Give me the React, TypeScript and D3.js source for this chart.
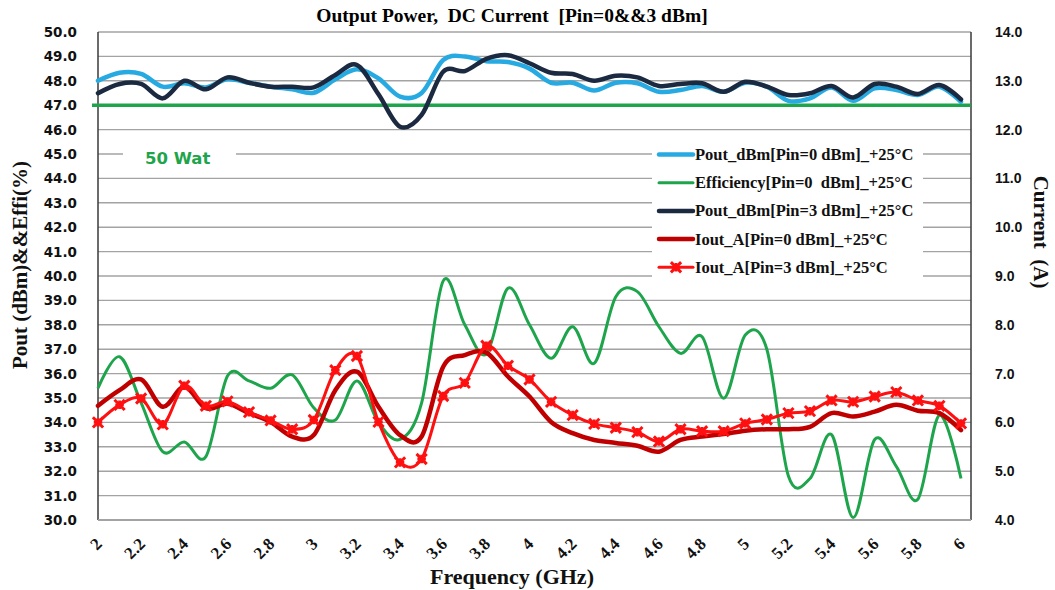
import React from "react";
import * as d3 from "d3";

// frequency points (GHz)
const freqs = [
  2.0, 2.1, 2.2, 2.3, 2.4, 2.5, 2.6, 2.7, 2.8, 2.9, 3.0,
  3.1, 3.2, 3.3, 3.4, 3.5, 3.6, 3.7, 3.8, 3.9, 4.0,
  4.1, 4.2, 4.3, 4.4, 4.5, 4.6, 4.7, 4.8, 4.9, 5.0,
  5.1, 5.2, 5.3, 5.4, 5.5, 5.6, 5.7, 5.8, 5.9, 6.0,
];
const xTicks = [2, 2.2, 2.4, 2.6, 2.8, 3, 3.2, 3.4, 3.6, 3.8, 4, 4.2, 4.4, 4.6, 4.8, 5, 5.2, 5.4, 5.6, 5.8, 6];

// left axis (dBm / %)
const poutPin0 = [
  48.0, 48.33, 48.28, 47.76, 47.9, 47.73, 48.06, 47.92, 47.76, 47.65, 47.51,
  48.06, 48.47, 48.1, 47.35, 47.5, 48.85, 49.0, 48.8, 48.77, 48.5,
  47.92, 47.92, 47.6, 47.92, 47.9, 47.55, 47.62, 47.79, 47.55, 47.92,
  47.76, 47.18, 47.28, 47.73, 47.18, 47.69, 47.62, 47.42, 47.76, 47.14,
];
const poutPin3 = [
  47.49, 47.87, 47.87, 47.28, 48.0, 47.65, 48.14, 47.92, 47.76, 47.76, 47.73,
  48.24, 48.65, 47.45, 46.12, 46.6, 48.37, 48.4, 48.9, 49.05, 48.72,
  48.33, 48.28, 48.0, 48.21, 48.14, 47.79, 47.87, 47.9, 47.55, 47.96,
  47.76, 47.42, 47.49, 47.79, 47.32, 47.87, 47.76, 47.46, 47.83, 47.24,
];
const efficiency = [
  35.4, 36.69, 34.8, 32.8, 33.2, 32.6, 35.9, 35.7, 35.4, 35.95, 34.6,
  34.1, 35.7, 34.0, 33.3, 34.8, 39.8, 38.0, 36.8, 39.5, 38.0,
  36.63, 37.92, 36.42, 39.15, 39.36, 37.92, 36.83, 37.51, 34.99, 37.58,
  37.0, 31.8, 31.7, 33.5, 30.1, 33.3, 32.2, 30.85, 34.3, 31.7,
];
const line50W = 47.0;

// right axis (A)
const ioutPin0 = [
  6.34, 6.66, 6.88, 6.32, 6.73, 6.29, 6.38, 6.19, 6.01, 5.71, 5.74,
  6.66, 7.04, 6.32, 5.74, 5.71, 7.14, 7.38, 7.43, 6.94, 6.53,
  6.01, 5.78, 5.64, 5.58, 5.52, 5.4, 5.64, 5.71, 5.76, 5.83,
  5.86, 5.86, 5.91, 6.19, 6.12, 6.22, 6.36, 6.24, 6.19, 5.84,
];
const ioutPin3 = [
  6.0, 6.36, 6.49, 5.96, 6.75, 6.34, 6.43, 6.21, 6.04, 5.86, 6.05,
  7.07, 7.36, 6.01, 5.18, 5.25, 6.54, 6.81, 7.57, 7.16, 6.88,
  6.42, 6.15, 5.97, 5.89, 5.8, 5.61, 5.86, 5.82, 5.82, 5.98,
  6.06, 6.19, 6.23, 6.45, 6.42, 6.53, 6.62, 6.45, 6.34, 5.98,
];

const leftTicks = d3.range(30, 50.5, 1);
const rightTicks = d3.range(4, 14.5, 1);

const C_BLUE = "#27AAE1";
const C_NAVY = "#1B2A40";
const C_GREEN = "#1EA54C";
const C_DRED = "#C00000";
const C_RED = "#FF1010";

const legendItems = [
  { label: "Pout_dBm[Pin=0 dBm]_+25°C", color: C_BLUE, width: 4.5, marker: false },
  { label: "Efficiency[Pin=0  dBm]_+25°C", color: C_GREEN, width: 3, marker: false },
  { label: "Pout_dBm[Pin=3 dBm]_+25°C", color: C_NAVY, width: 4.5, marker: false },
  { label: "Iout_A[Pin=0 dBm]_+25°C", color: C_DRED, width: 4.5, marker: false },
  { label: "Iout_A[Pin=3 dBm]_+25°C", color: C_RED, width: 3, marker: true },
];

export default function App() {
  const left = 98, right = 971, top = 32, bottom = 520;
  const x = d3.scaleLinear().domain([2, 6]).range([98, 961]);
  const yL = d3.scaleLinear().domain([30, 50]).range([bottom, top]);
  const yR = d3.scaleLinear().domain([4, 14]).range([bottom, top]);

  const curve = d3.curveCardinal.tension(0);
  const lineL = d3.line<number>().x((_, i) => x(freqs[i])).y((d) => yL(d)).curve(curve);
  const lineR = d3.line<number>().x((_, i) => x(freqs[i])).y((d) => yR(d)).curve(curve);
  const star = d3.symbol().type(d3.symbolTimes).size(70)();
  const plus = d3.symbol().type(d3.symbolCross).size(40)();

  const serif = "'Liberation Serif', 'Times New Roman', serif";

  const marker = (cx: number, cy: number, k: number) => (
    <g key={k} transform={`translate(${cx},${cy})`}>
      <path d={star} fill="none" stroke={C_RED} strokeWidth={3} />
      <path d={plus} fill={C_RED} />
    </g>
  );

  return (
    <svg width={1055} height={590} style={{ position: "absolute", left: 0, top: 0, background: "#fff" }}>
      {/* grid */}
      {leftTicks.map((t) => (
        <line key={t} x1={left} x2={right} y1={yL(t)} y2={yL(t)} stroke="#A3A3A3" strokeWidth={1.4} />
      ))}
      <line x1={left} x2={left} y1={top} y2={bottom} stroke="#3A3A3A" strokeWidth={1.5} />
      <line x1={right} x2={right} y1={top} y2={bottom} stroke="#3A3A3A" strokeWidth={1.5} />
      <line x1={left} x2={right} y1={bottom} y2={bottom} stroke="#A3A3A3" strokeWidth={2} />

      {/* title */}
      <text x={512} y={22} textAnchor="middle" fontFamily={serif} fontWeight="bold" fontSize={19.5} style={{ whiteSpace: "pre" }}>
        {"Output Power,  DC Current  [Pin=0&&3 dBm]"}
      </text>

      {/* left ticks */}
      {leftTicks.map((t) => (
        <text key={t} x={77} y={yL(t) + 5} textAnchor="end" fontFamily="'DejaVu Sans', sans-serif" fontWeight="bold" fontSize={13.5} fill="#111">
          {t.toFixed(1)}
        </text>
      ))}
      {/* right ticks */}
      {rightTicks.map((t) => (
        <text key={t} x={995} y={yR(t) + 5} fontFamily="'Liberation Sans', Arial, sans-serif" fontWeight="bold" fontSize={14} fill="#111">
          {t.toFixed(1)}
        </text>
      ))}
      {/* x ticks */}
      {xTicks.map((t) => (
        <text key={t} transform={`translate(${x(t) + 5},${545}) rotate(-45)`} textAnchor="end" fontFamily={serif} fontWeight="bold" fontSize={17} fill="#111">
          {String(t)}
        </text>
      ))}

      {/* axis titles */}
      <text transform={`translate(27,${265}) rotate(-90)`} textAnchor="middle" fontFamily={serif} fontWeight="bold" fontSize={21} fill="#111">
        {"Pout (dBm)&&Effi(%)"}
      </text>
      <text transform={`translate(1034,${232}) rotate(90)`} textAnchor="middle" fontFamily={serif} fontWeight="bold" fontSize={21} fill="#111" style={{ whiteSpace: "pre" }}>
        {"Current  (A)"}
      </text>
      <text x={512} y={584} textAnchor="middle" fontFamily={serif} fontWeight="bold" fontSize={22} fill="#111">
        Frequency (GHz)
      </text>

      {/* 50 W label */}
      <rect x={123} y={142} width={113} height={26} fill="#fff" />
      <text x={145} y={164} fontFamily="'DejaVu Sans', sans-serif" fontWeight="bold" fontSize={16.5} fill={C_GREEN}>
        50 Wat
      </text>

      {/* series */}
      <path d={lineL(efficiency) || ""} fill="none" stroke={C_GREEN} strokeWidth={3} strokeLinejoin="round" />
      <line x1={92} x2={right} y1={yL(line50W)} y2={yL(line50W)} stroke={C_GREEN} strokeWidth={3.5} />
      <path d={lineL(poutPin0) || ""} fill="none" stroke={C_BLUE} strokeWidth={4.5} strokeLinejoin="round" strokeLinecap="round" />
      <path d={lineL(poutPin3) || ""} fill="none" stroke={C_NAVY} strokeWidth={4.5} strokeLinejoin="round" strokeLinecap="round" />
      <path d={lineR(ioutPin0) || ""} fill="none" stroke={C_DRED} strokeWidth={4.5} strokeLinejoin="round" strokeLinecap="round" />
      <path d={lineR(ioutPin3) || ""} fill="none" stroke={C_RED} strokeWidth={3} strokeLinejoin="round" />
      {ioutPin3.map((v, i) => marker(x(freqs[i]), yR(v), i))}

      {/* legend */}
      <rect x={652} y={141} width={271} height={140} fill="#fff" />
      {legendItems.map((it, i) => {
        const cy = 154.5 + i * 28.2;
        return (
          <g key={it.label}>
            <line x1={659} x2={693} y1={cy} y2={cy} stroke={it.color} strokeWidth={it.width} strokeLinecap="round" />
            {it.marker && marker(676, cy, 99)}
            <text x={695} y={cy + 5.5} fontFamily={serif} fontWeight="bold" fontSize={16.5} fill="#111" style={{ whiteSpace: "pre" }}>
              {it.label}
            </text>
          </g>
        );
      })}
    </svg>
  );
}
